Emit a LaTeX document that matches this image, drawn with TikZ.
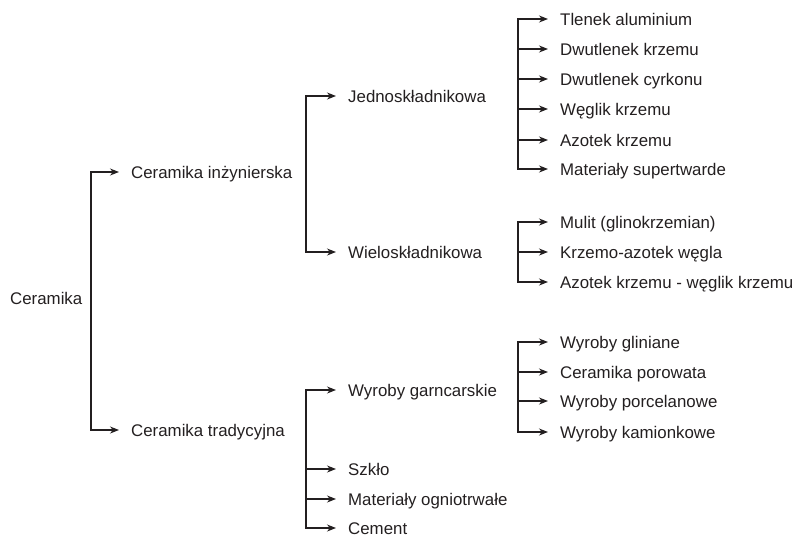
\documentclass[tikz,border=0pt]{standalone}
\usepackage{fontspec}
\setmainfont{Liberation Sans}
\usetikzlibrary{arrows.meta}
\definecolor{ink}{HTML}{231F20}
\begin{document}
\begin{tikzpicture}[x=1pt,y=-1pt,
  lbl/.style={anchor=west, inner xsep=12pt, inner ysep=0pt, text height=12pt, text depth=0pt,
    font=\fontsize{16.85}{20}\selectfont, text=ink},
  arr/.style={-{Stealth[length=9pt,width=7pt]}, line width=1.2pt, draw=ink, line cap=rect},
  spine/.style={line width=1.2pt, draw=ink, line cap=rect}]
\useasboundingbox (0,0) rectangle (794,536);
% root
\node[lbl, inner xsep=0pt] (root) at (10,298) {Ceramika};
% level 1
\node[lbl] (ci) at (119,172) {Ceramika inżynierska};
\node[lbl] (ct) at (119,430) {Ceramika tradycyjna};
% level 2
\node[lbl] (jed) at (336,96) {Jednoskładnikowa};
\node[lbl] (wie) at (336,252) {Wieloskładnikowa};
\node[lbl] (wg) at (336,390) {Wyroby garncarskie};
\node[lbl] (sz) at (336,469) {Szkło};
\node[lbl] (mo) at (336,499) {Materiały ogniotrwałe};
\node[lbl] (ce) at (336,528) {Cement};
% level 3
\node[lbl] (t1) at (548,19) {Tlenek aluminium};
\node[lbl] (t2) at (548,49) {Dwutlenek krzemu};
\node[lbl] (t3) at (548,79) {Dwutlenek cyrkonu};
\node[lbl] (t4) at (548,109) {Węglik krzemu};
\node[lbl] (t5) at (548,140) {Azotek krzemu};
\node[lbl] (t6) at (548,169) {Materiały supertwarde};
\node[lbl] (m1) at (548,222) {Mulit (glinokrzemian)};
\node[lbl] (m2) at (548,252) {Krzemo-azotek węgla};
\node[lbl] (m3) at (548,282) {Azotek krzemu - węglik krzemu};
\node[lbl] (g1) at (548,342) {Wyroby gliniane};
\node[lbl] (g2) at (548,372) {Ceramika porowata};
\node[lbl] (g3) at (548,401) {Wyroby porcelanowe};
\node[lbl] (g4) at (548,432) {Wyroby kamionkowe};
% brackets
\draw[spine] ([xshift=-28pt]ci.west) -- ([xshift=-28pt]ct.west);
\foreach \n in {ci,ct} \draw[arr] ([xshift=-28pt]\n.west) -- (\n.west);
\draw[spine] ([xshift=-30pt]jed.west) -- ([xshift=-30pt]wie.west);
\foreach \n in {jed,wie} \draw[arr] ([xshift=-30pt]\n.west) -- (\n.west);
\draw[spine] ([xshift=-30pt]wg.west) -- ([xshift=-30pt]ce.west);
\foreach \n in {wg,sz,mo,ce} \draw[arr] ([xshift=-30pt]\n.west) -- (\n.west);
\draw[spine] ([xshift=-30pt]t1.west) -- ([xshift=-30pt]t6.west);
\foreach \n in {t1,t2,t3,t4,t5,t6} \draw[arr] ([xshift=-30pt]\n.west) -- (\n.west);
\draw[spine] ([xshift=-30pt]m1.west) -- ([xshift=-30pt]m3.west);
\foreach \n in {m1,m2,m3} \draw[arr] ([xshift=-30pt]\n.west) -- (\n.west);
\draw[spine] ([xshift=-30pt]g1.west) -- ([xshift=-30pt]g4.west);
\foreach \n in {g1,g2,g3,g4} \draw[arr] ([xshift=-30pt]\n.west) -- (\n.west);
\end{tikzpicture}
\end{document}
